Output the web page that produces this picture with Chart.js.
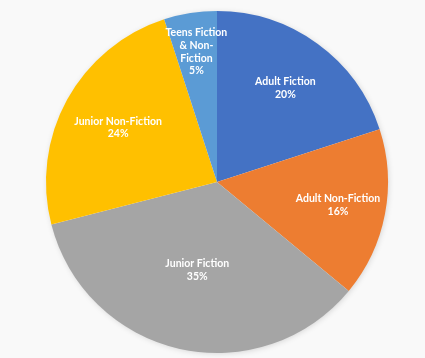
<!DOCTYPE html>
<html>
<head>
<meta charset="utf-8">
<script src="https://cdn.jsdelivr.net/npm/chart.js@4"></script>
<style>
  html, body { margin: 0; padding: 0; background: #f9f9f9; }
  #wrap { width: 425px; height: 358px; }
</style>
</head>
<body>
<div id="wrap"><canvas id="chart1" width="425" height="358"></canvas></div>
<script>
// Categories and shares (percent), clockwise from 12 o'clock
const categories = ['Adult Fiction', 'Adult Non-Fiction', 'Junior Fiction', 'Junior Non-Fiction', 'Teens Fiction & Non-Fiction'];
const shares = [20, 16, 35, 24, 5];
// label text lines as shown on the slices
const labelLines = [
  ['Adult Fiction', '20%'],
  ['Adult Non-Fiction', '16%'],
  ['Junior Fiction', '35%'],
  ['Junior Non-Fiction', '24%'],
  ['Teens Fiction', '& Non-', 'Fiction', '5%']
];
const colors = ['#4472C4', '#ED7D31', '#A5A5A5', '#FFC000', '#5B9BD5'];

// draws the labels inside each slice
const sliceLabels = {
  id: 'sliceLabels',
  afterDatasetsDraw(chart, args, opts) {
    const ctx = chart.ctx;
    const meta = chart.getDatasetMeta(0);
    ctx.save();
    ctx.fillStyle = '#ffffff';
    ctx.font = 'bold 10.5px Lato, "Open Sans", sans-serif';
    ctx.textAlign = 'center';
    ctx.textBaseline = 'middle';
    meta.data.forEach((arc, i) => {
      const p = arc.getProps(['x', 'y', 'startAngle', 'endAngle', 'outerRadius'], true);
      const mid = (p.startAngle + p.endAngle) / 2;
      const r = p.outerRadius * opts.radius[i];
      const cx = p.x + Math.cos(mid) * r;
      const cy = p.y + Math.sin(mid) * r;
      const lines = labelLines[i];
      const lh = 12.7;
      lines.forEach((t, k) => {
        ctx.fillText(t, cx, cy + (k - (lines.length - 1) / 2) * lh);
      });
    });
    ctx.restore();
  }
};

// soft shadow behind the pie
const pieShadow = {
  id: 'pieShadow',
  beforeDatasetsDraw(chart) {
    const arc = chart.getDatasetMeta(0).data[0];
    if (!arc) return;
    const ctx = chart.ctx;
    ctx.save();
    ctx.shadowColor = 'rgba(0,0,0,0.18)';
    ctx.shadowBlur = 6;
    ctx.shadowOffsetX = 1;
    ctx.shadowOffsetY = 1;
    ctx.fillStyle = '#ffffff';
    ctx.beginPath();
    ctx.arc(arc.x, arc.y, arc.outerRadius - 1, 0, Math.PI * 2);
    ctx.fill();
    ctx.restore();
  }
};

new Chart(document.getElementById('chart1').getContext('2d'), {
  type: 'pie',
  data: {
    labels: categories,
    datasets: [{
      data: shares,
      backgroundColor: colors,
      borderWidth: 0
    }]
  },
  options: {
    responsive: false,
    animation: false,
    layout: { padding: { left: 46, right: 37, top: 11, bottom: 5 } },
    plugins: {
      legend: { display: false },
      tooltip: { enabled: false },
      sliceLabels: { radius: [0.68, 0.72, 0.53, 0.66, 0.77] }
    }
  },
  plugins: [pieShadow, sliceLabels]
});
</script>
</body>
</html>
